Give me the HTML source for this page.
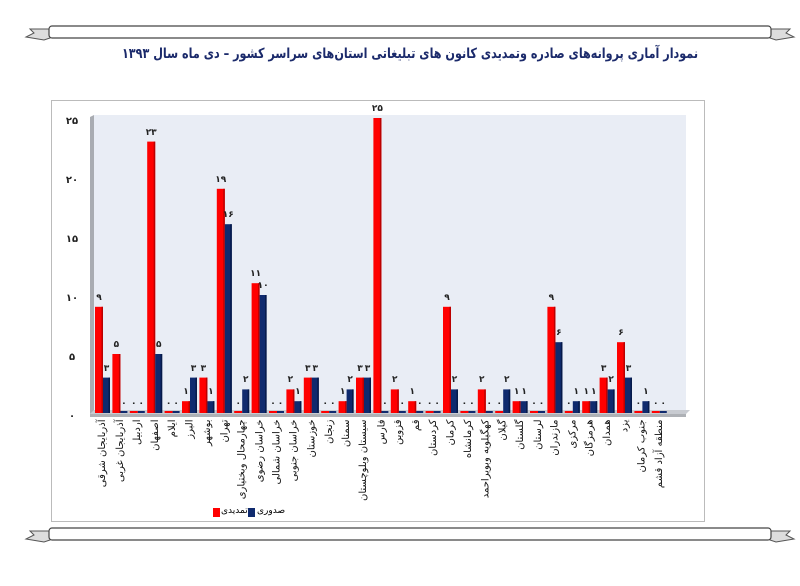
<!DOCTYPE html>
<html><head><meta charset="utf-8"><style>
body{margin:0;width:800px;height:586px;background:#fff;position:relative;overflow:hidden;font-family:"DejaVu Sans","Liberation Sans",sans-serif}
.a{position:absolute}
.t{position:absolute;left:0;width:820px;top:46px;text-align:center;font-weight:bold;font-size:14px;color:#1b2a6b;direction:rtl;transform:scaleX(0.8);transform-origin:410px 0}
.v{position:absolute;font-size:9px;font-weight:bold;color:#222;width:16px;text-align:center}
.lab{position:absolute;white-space:nowrap;font-size:10px;color:#111;transform-origin:right center;transform:rotate(-90deg);direction:rtl}
</style></head><body>
<svg class="a" style="left:0;top:0" width="800" height="586">
<g id="ban">
<path d="M50 29 L30 29 L34 33 L26 37 L44 40 L50 38 Z" fill="#ddd" stroke="#555"/>
<path d="M770 29 L790 29 L786 33 L794 37 L776 40 L770 38 Z" fill="#ddd" stroke="#555"/>
<rect x="49" y="26" width="722" height="12" rx="3" fill="#fff" stroke="#444" stroke-width="1.2"/>
</g>
<use href="#ban" transform="translate(0,502)"/>
<rect x="51.5" y="100.5" width="653" height="421" fill="#fff" stroke="#bbb"/>
<rect x="94" y="115" width="592" height="298" fill="#e9edf5"/>
<path d="M90 117 L94 115 L94 411 L90 414 Z" fill="#a9acb2"/>
<path d="M90 414 L94 410 L690 410 L686 414 Z" fill="#c8cbd1"/>
<path d="M90 414 L686 414 L686 417 L90 417 Z" fill="#aeb1b6"/>
<g font-size="10" font-weight="bold" fill="#222" text-anchor="middle" font-family="DejaVu Sans,sans-serif">
<text x="72" y="124">۲۵</text><text x="72" y="183">۲۰</text><text x="72" y="242">۱۵</text><text x="72" y="301">۱۰</text><text x="72" y="360">۵</text><text x="72" y="419">۰</text>
</g>
<g id="bars"></g>
<rect x="213" y="508" width="7" height="9" fill="#f00"/>
<rect x="248" y="508" width="7" height="9" fill="#0f2a6e"/>
</svg>
<div class="t">نمودار آماری پروانه‌های صادره وتمدیدی کانون های تبلیغاتی استان‌های سراسر کشور – دی ماه سال ۱۳۹۳</div>
<div class="a" style="left:221px;top:506px;font-size:9px;direction:rtl">تمدیدی</div>
<div class="a" style="left:257px;top:506px;font-size:9px;direction:rtl">صدوری</div>
<div id="labs"></div>
<script>
var d=[["آذربایجان شرقی",9,3],["آذربایجان غربی",5,0],["اردبیل",0,0],["اصفهان",23,5],["ایلام",0,0],["البرز",1,3],["بوشهر",3,1],["تهران",19,16],["چهارمحال وبختیاری",0,2],["خراسان رضوی",11,10],["خراسان شمالی",0,0],["خراسان جنوبی",2,1],["خوزستان",3,3],["زنجان",0,0],["سمنان",1,2],["سیستان وبلوچستان",3,3],["فارس",25,0],["قزوین",2,0],["قم",1,0],["کردستان",0,0],["کرمان",9,2],["کرمانشاه",0,0],["کهگیلویه وبویراحمد",2,0],["گیلان",0,2],["گلستان",1,1],["لرستان",0,0],["مازندران",9,6],["مرکزی",0,1],["هرمزگان",1,1],["همدان",3,2],["یزد",6,3],["جنوب کرمان",0,1],["منطقه آزاد قشم",0,0]];
function fa(n){return String(n).replace(/\d/g,c=>"۰۱۲۳۴۵۶۷۸۹"[c]);}
var g="",h="",z=413,k=11.8;
d.forEach(function(r,i){var x=95+i*17.4;
[[r[1],x,8,"#f00","#b00"],[r[2],x+8,7,"#0f2a6e","#061a4a"]].forEach(function(b){
var hh=b[0]*k;if(b[0]>0){g+='<rect x="'+b[1]+'" y="'+(z-hh)+'" width="'+b[2]+'" height="'+hh+'" fill="'+b[3]+'"/>';g+='<rect x="'+(b[1]+b[2]-1.5)+'" y="'+(z-hh)+'" width="1.5" height="'+hh+'" fill="'+b[4]+'"/>';}
else g+='<rect x="'+b[1]+'" y="'+(z-2)+'" width="'+b[2]+'" height="2" fill="'+b[3]+'"/>';
h+='<div class="v" style="left:'+(b[1]+b[2]/2-8)+'px;top:'+(z-hh-14)+'px">'+fa(b[0])+'</div>';});
h+='<div class="lab" style="right:'+(800-(x+8))+'px;top:414px">'+r[0]+'</div>';
});
document.getElementById("bars").innerHTML=g;document.getElementById("labs").innerHTML=h;
</script>
</body></html>
